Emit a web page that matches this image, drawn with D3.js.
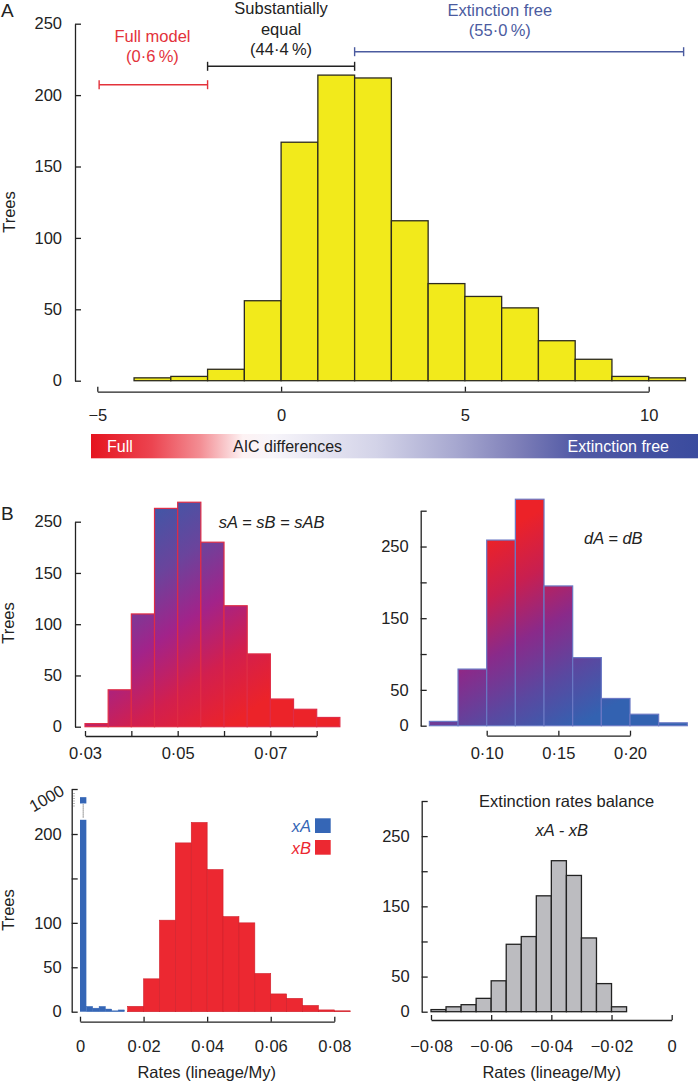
<!DOCTYPE html>
<html>
<head>
<meta charset="utf-8">
<script src="https://cdn.jsdelivr.net/npm/d3@7"></script>
<style>
body { margin: 0; background: #fff; }
svg text { font-family: "Liberation Sans", Arial, Helvetica, sans-serif; fill: #222; }
.axis path, .axis line { stroke: #222; stroke-width: 1.3; }
.axis text { font-size: 16.5px; fill: #222; font-family: "Liberation Sans", Arial, Helvetica, sans-serif; }
</style>
</head>
<body>
<svg id="chart" width="698" height="1083"></svg>
<script>
// panel A : AIC differences
const aicEdges = [-4, -3, -2, -1, 0, 1, 2, 3, 4, 5, 6, 7, 8, 9, 10, 11];
const aicCounts = [2, 3, 8, 56, 167, 214, 212, 112, 68, 59, 51, 28, 15, 3, 2];
const aicXTicks = [-5, 0, 5, 10];
const aicYTicks = [0, 50, 100, 150, 200, 250];
const modelNames = [["Full model"], ["Substantially", "equal"], ["Extinction free"]];
const modelShares = [0.6, 44.4, 55.0];
const modelRanges = [[-4.95, -2], [-2, 2], [2, 10.95]];

// panel B : speciation
const sEdges = [0.03, 0.035, 0.04, 0.045, 0.05, 0.055, 0.06, 0.065, 0.07, 0.075, 0.08, 0.085];
const sCounts = [3, 36, 110, 213, 219, 180, 118, 71, 27, 17, 9];
const sXTicks = [0.03, 0.04, 0.05, 0.06, 0.07, 0.08];
const sXLabels = [0.03, 0.05, 0.07];
const sYTicks = [0, 50, 100, 150, 200];
const sYLabels = ["0", "50", "100", "150", "250"];

// panel B : dispersal
const dEdges = [0.06, 0.08, 0.10, 0.12, 0.14, 0.16, 0.18, 0.20, 0.22, 0.24];
const dCounts = [6, 79, 259, 316, 195, 95, 38, 16, 4];
const dXTicks = [0.10, 0.15, 0.20];
const dYTicks = [0, 50, 100, 150, 200, 250, 300];
const dYLabels = [0, 50, 150, 250];

// panel B : extinction
const xaEdges = [0, 0.002, 0.004, 0.006, 0.008, 0.010, 0.012, 0.014];
const xaCounts = [976, 6, 4, 6, 3, 1, 2];
const xbEdges = [0.015, 0.02, 0.025, 0.03, 0.035, 0.04, 0.045, 0.05, 0.055, 0.06, 0.065, 0.07, 0.075, 0.08, 0.085];
const xbCounts = [6, 37, 103, 190, 213, 160, 107, 100, 43, 20, 15, 7, 2, 1];
const xXTicks = [0, 0.02, 0.04, 0.06, 0.08];
const xYTicks = [0, 50, 100, 150, 200, 1000];
const xYLabels = [0, 50, 100, 200, 1000];

// panel B : extinction balance
const eEdges = [-0.08, -0.075, -0.07, -0.065, -0.06, -0.055, -0.05, -0.045, -0.04, -0.035, -0.03, -0.025, -0.02, -0.015];
const eCounts = [3, 7, 10, 19, 44, 96, 107, 165, 215, 194, 105, 40, 7];
const eXTicks = [-0.08, -0.06, -0.04, -0.02, 0];
const eYTicks = [0, 50, 100, 150, 200, 250, 300];
const eYLabels = [0, 50, 150, 250];

const svg = d3.select('#chart');
const defs = svg.append('defs');

function dotFmt(p) {
    return function(v) {
        if (v === 0) return "0";
        return d3.format("." + p + "f")(v).replace(".", "\u00b7").replace(/^[-\u2212]/, "\u2212");
    };
}

function intFmt(v) {
    return String(v).replace("-", "\u2212");
}

function pctFmt(v) {
    return "(" + d3.format(".1f")(v).replace(".", "\u00b7") + "\u2009%)";
}

function drawBars(g, edges, counts, x, y, fill, stroke, sw) {
    g.selectAll(null)
    .data(counts)
    .enter()
    .append('rect')
    .attr('x', function(d, i) { return x(edges[i]); })
    .attr('width', function(d, i) { return x(edges[i + 1]) - x(edges[i]); })
    .attr('y', function(d) { return y(d); })
    .attr('height', function(d) { return y(0) - y(d); })
    .attr('fill', fill)
    .attr('stroke', stroke)
    .attr('stroke-width', sw);
}

function yAxis(x0, scale, ticks, labels, pad) {
    return svg.append('g')
    .attr('class', 'axis')
    .attr('transform', 'translate(' + x0 + ',0)')
    .call(d3.axisLeft(scale).tickValues(ticks).tickSizeInner(-6).tickSizeOuter(0).tickPadding(pad)
        .tickFormat(function(d, i) {
            if (typeof labels[0] === 'string') return labels[i];
            return labels.indexOf(d) >= 0 ? d : "";
        }));
}

function xAxis(y0, scale, ticks, labels, fmt, pad) {
    return svg.append('g')
    .attr('class', 'axis')
    .attr('transform', 'translate(0,' + y0 + ')')
    .call(d3.axisBottom(scale).tickValues(ticks).tickSizeInner(-5).tickSizeOuter(0).tickPadding(pad)
        .tickFormat(function(d) {
            return labels.indexOf(d) >= 0 ? fmt(d) : "";
        }));
}

function yTitle(x, y) {
    svg.append('text')
    .attr('transform', 'translate(' + x + ',' + y + ')rotate(-90)')
    .attr('text-anchor', 'middle')
    .attr('dy', '0.35em')
    .style('font-size', '16.5px')
    .text('Trees');
}

function note(x, y, txt, italic, color) {
    return svg.append('text')
    .attr('x', x)
    .attr('y', y)
    .attr('text-anchor', 'middle')
    .style('font-size', '16.5px')
    .style('font-style', italic ? 'italic' : 'normal')
    .style('fill', color || '#222')
    .text(txt);
}

// ---------------- panel A ----------------
const xA = d3.scaleLinear().domain([-5, 10]).range([97.3, 648.7]);
const yA = d3.scaleLinear().domain([0, 250]).range([380.7, 23.7]);

svg.append('text').attr('x', 1).attr('y', 17).style('font-size', '19px').text('A');
yTitle(9, 212);

drawBars(svg.append('g'), aicEdges, aicCounts, xA, yA, '#f2ea1b', '#2d2b1f', 1.3);
yAxis(75, yA, aicYTicks, aicYTicks, 13);
xAxis(391.7, xA, aicXTicks, aicXTicks, intFmt, 18);

const modelColors = ['#e3323b', '#222', '#4b5b9f'];
const modelLineY = [84.7, 66.3, 51.7];
const modelLabelX = [-3.5, 0, 5.95];
const modelLabelY = [41.5, 14, 15.5];

modelRanges.forEach(function(r, i) {
    let g = svg.append('g').attr('stroke', modelColors[i]).attr('stroke-width', 1.4);
    g.append('line').attr('x1', xA(r[0])).attr('x2', xA(r[1])).attr('y1', modelLineY[i]).attr('y2', modelLineY[i]);
    g.selectAll(null).data(r).enter().append('line')
    .attr('x1', function(d) { return xA(d); })
    .attr('x2', function(d) { return xA(d); })
    .attr('y1', modelLineY[i] - 4.5)
    .attr('y2', modelLineY[i] + 4.5);

    let lines = modelNames[i].concat([pctFmt(modelShares[i])]);
    lines.forEach(function(t, j) {
        note(xA(modelLabelX[i]), modelLabelY[i] + j * 20.5, t, false, modelColors[i]);
    });
});

// AIC colour bar
const aicGrad = defs.append('linearGradient').attr('id', 'aicGrad');
[[0, '#e5141f'], [0.1, '#ec4450'], [0.18, '#f38e94'], [0.25, '#fdf2f3'], [0.3, '#f7f5fa'],
 [0.47, '#d3d3e8'], [0.6, '#a7a8d0'], [0.7, '#7f80b9'], [0.8, '#5159a5'], [1, '#3a4b9e']]
.forEach(function(s) {
    aicGrad.append('stop').attr('offset', s[0]).attr('stop-color', s[1]);
});
svg.append('rect').attr('x', 91).attr('y', 434).attr('width', 607).attr('height', 24.3).attr('fill', 'url(#aicGrad)');
svg.append('text').attr('x', 107).attr('y', 451.5).style('font-size', '16px').style('fill', '#fff').text('Full');
svg.append('text').attr('x', 233).attr('y', 451.5).style('font-size', '16px').text('AIC differences');
svg.append('text').attr('x', 669).attr('y', 451.5).attr('text-anchor', 'end').style('font-size', '16px').style('fill', '#fff').text('Extinction free');

// ---------------- panel B : sA = sB = sAB ----------------
const xS = d3.scaleLinear().domain([0.03, 0.08]).range([85, 316.7]);
const yS = d3.scaleLinear().domain([0, 200]).range([726.7, 521.7]);

svg.append('text').attr('x', 1).attr('y', 520).style('font-size', '19px').text('B');
yTitle(8, 623);

function diagGradient(id, rx, ry, rt, gx, gy, stops) {
    let gr = defs.append('linearGradient').attr('id', id)
    .attr('gradientUnits', 'userSpaceOnUse')
    .attr('x1', rx - rt * gx).attr('y1', ry - rt * gy)
    .attr('x2', rx + (1 - rt) * gx).attr('y2', ry + (1 - rt) * gy);
    stops.forEach(function(s) {
        gr.append('stop').attr('offset', s[0]).attr('stop-color', s[1]);
    });
}

diagGradient('gradS', xS(0.0525), yS(0), 0.9, 126.5, 181.2,
    [[0, '#4256a6'], [0.25, '#6a449c'], [0.5, '#a2238a'], [0.75, '#d21f4e'], [1, '#ec2329']]);
drawBars(svg.append('g'), sEdges, sCounts, xS, yS, 'url(#gradS)', '#df2c46', 1.2);
yAxis(75, yS, sYTicks, sYLabels, 13);
xAxis(736, xS, sXTicks, sXLabels, dotFmt(2), 11.5);
note(271.7, 527.5, 'sA = sB = sAB', true);

// ---------------- panel B : dA = dB ----------------
const xD = d3.scaleLinear().domain([0.10, 0.20]).range([486.7, 630]);
const yD = d3.scaleLinear().domain([0, 300]).range([725.7, 510.7]);

diagGradient('gradD', xD(0.15), yD(0), 0.95, 103.8, 178.2,
    [[0, '#ec2228'], [0.25, '#c81f50'], [0.5, '#8a2a8a'], [0.75, '#5a48a0'], [1, '#3362b1']]);
drawBars(svg.append('g'), dEdges, dCounts, xD, yD, 'url(#gradD)', '#6a78c4', 1.2);
yAxis(420.7, yD, dYTicks, dYLabels, 12);
xAxis(735.7, xD, dXTicks, dXTicks, dotFmt(2), 11.5);
note(613.3, 544, 'dA = dB', true);

// ---------------- panel B : xA, xB ----------------
const xX = d3.scaleLinear().domain([0, 0.08]).range([80, 334.3]);
const yX = d3.scaleLinear().domain([0, 225, 950, 1000]).range([1011.7, 811.8, 806, 789]);
const breakAt = 216;

yTitle(8, 910);

drawBars(svg.append('g'), xbEdges, xbCounts, xX, yX, '#ec2831', '#cf1f2a', 0.6);

const blueG = svg.append('g');
drawBars(blueG, xaEdges.slice(1), xaCounts.slice(1), xX, yX, '#3566b6', '#3566b6', 0.4);
// the tall bar is broken
blueG.append('rect')
.attr('x', xX(xaEdges[0])).attr('width', xX(xaEdges[1]) - xX(xaEdges[0]))
.attr('y', yX(breakAt)).attr('height', yX(0) - yX(breakAt))
.attr('fill', '#3566b6');
blueG.append('rect')
.attr('x', xX(xaEdges[0])).attr('width', xX(xaEdges[1]) - xX(xaEdges[0]))
.attr('y', yX(xaCounts[0])).attr('height', 6.3)
.attr('fill', '#3566b6');
blueG.append('line')
.attr('x1', xX((xaEdges[0] + xaEdges[1]) / 2)).attr('x2', xX((xaEdges[0] + xaEdges[1]) / 2))
.attr('y1', yX(xaCounts[0]) + 7.3).attr('y2', yX(breakAt) - 1.5)
.attr('stroke', '#444').attr('stroke-width', 1).attr('stroke-dasharray', '1,1');

const axX = yAxis(71.7, yX, xYTicks, xYLabels, 10);
axX.selectAll('.tick text')
.filter(function(d) { return d === 1000; })
.attr('transform', 'rotate(-30,-9,0)')
.attr('x', -9);
svg.append('line').attr('x1', 74).attr('x2', 74).attr('y1', 793).attr('y2', 808)
.attr('stroke', '#777').attr('stroke-width', 1).attr('stroke-dasharray', '1,1.5');
xAxis(1021.7, xX, xXTicks, xXTicks, dotFmt(2), 18.5);
note(206.7, 1078, 'Rates (lineage/My)', false);

const legNames = ['xA', 'xB'];
const legColors = ['#3566b6', '#ec2831'];
legNames.forEach(function(n, i) {
    svg.append('rect').attr('x', 315).attr('y', 818.3 + i * 21.7).attr('width', 15.7).attr('height', 14.7)
    .attr('fill', legColors[i]);
    svg.append('text').attr('x', 311).attr('y', 832 + i * 21.7).attr('text-anchor', 'end')
    .style('font-size', '16.5px').style('font-style', 'italic').style('fill', legColors[i]).text(n);
});

// ---------------- panel B : xA - xB ----------------
const xE = d3.scaleLinear().domain([-0.08, 0]).range([431, 671.7]);
const yE = d3.scaleLinear().domain([0, 300]).range([1011.7, 801]);

drawBars(svg.append('g'), eEdges, eCounts, xE, yE, '#bcbcc0', '#222', 1.3);
yAxis(421.7, yE, eYTicks, eYLabels, 12);
xAxis(1020, xE, eXTicks, eXTicks, dotFmt(2), 20);
note(566.7, 807, 'Extinction rates balance', false);
note(561.7, 836, 'xA - xB', true);
note(551.7, 1078, 'Rates (lineage/My)', false);
</script>
</body>
</html>
